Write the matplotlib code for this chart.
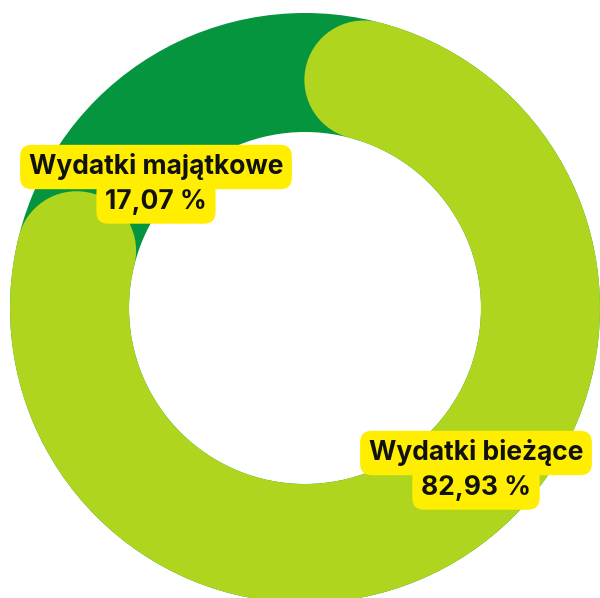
import numpy as np
import matplotlib.pyplot as plt
from matplotlib.patches import Wedge, Circle

categories = ["Wydatki bieżące", "Wydatki majątkowe"]
shares = [82.93, 17.07]  # %
colors = ["#b0d51f", "#05953f"]
label_pos = [(476, 453), (156, 167)]  # px, first line centre

# ring geometry (pixels)
cx, cy = 305, 308
R_out, R_in = 295, 176
mid = (R_out + R_in) / 2
half = (R_out - R_in) / 2

fig = plt.figure(figsize=(6, 5.98), dpi=100)
ax = fig.add_axes([0, 0, 1, 1])
ax.set_xlim(0, 600)
ax.set_ylim(598, 0)
ax.set_aspect("equal")
ax.axis("off")

# background ring = small share
ax.add_patch(Wedge((cx, cy), R_out, 0, 360, width=R_out - R_in,
                   color=colors[1], lw=0))

# big share as rounded arc, starting at 12 o'clock going clockwise
span = shares[0] / 100 * 360
cap = np.degrees(half / mid)
t_start = 0 + cap
t_end = span - cap
ax.add_patch(Wedge((cx, cy), R_out, t_start - 90, t_end - 90,
                   width=R_out - R_in, color=colors[0], lw=0))
for t in (t_start, t_end):
    tr = np.radians(t)
    ax.add_patch(Circle((cx + mid * np.sin(tr), cy - mid * np.cos(tr)),
                        half, color=colors[0], lw=0))

font = ["Inter", "DejaVu Sans"]
box = dict(boxstyle="round,pad=0.33,rounding_size=0.45", fc="#ffee00", ec="none")
for name, val, (x, y) in zip(categories, shares, label_pos):
    pct = f"{val:.2f}".replace(".", ",") + " %"
    ax.text(x, y + 35, pct, ha="center", va="center", fontsize=19,
            fontweight="bold", family=font, color="#111111", bbox=box, zorder=3)
    ax.text(x, y, name, ha="center", va="center", fontsize=19,
            fontweight="bold", family=font, color="#111111", bbox=box, zorder=4)

fig.savefig("out.png", dpi=100, facecolor="white")
